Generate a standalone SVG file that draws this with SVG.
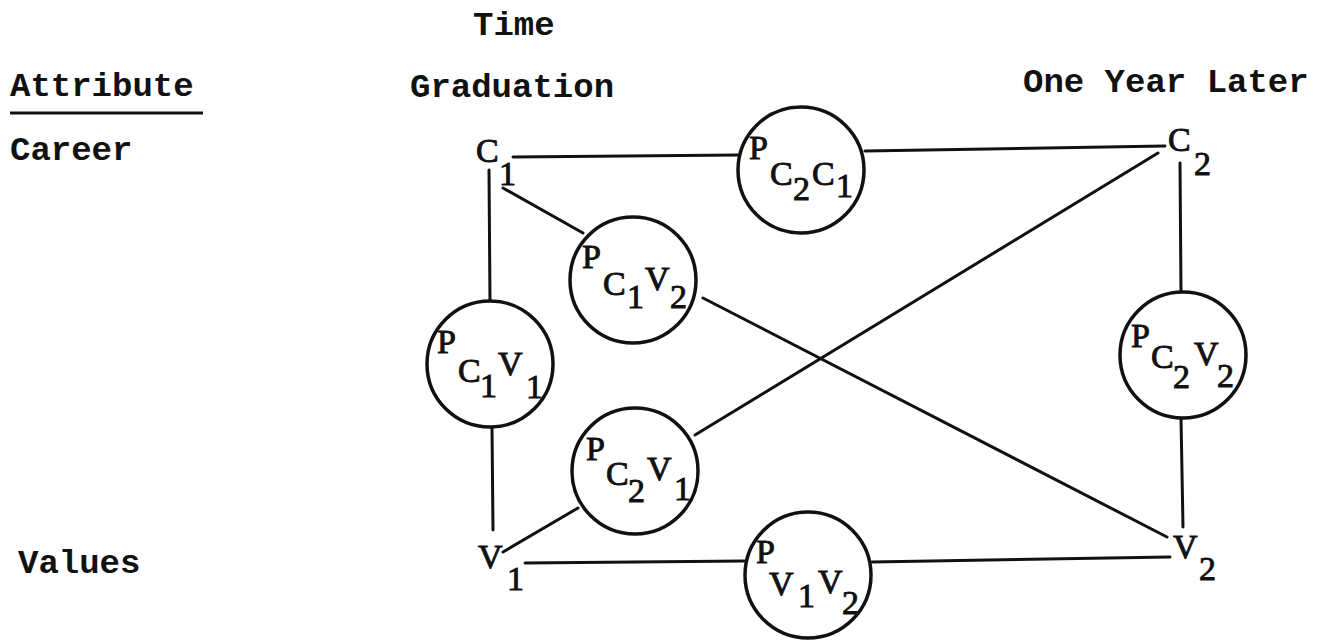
<svg xmlns="http://www.w3.org/2000/svg" width="1327" height="643" viewBox="0 0 1327 643">
<style>
.hd{font-family:"Liberation Mono","DejaVu Sans Mono",monospace;font-size:34px;fill:#111;font-weight:bold}
.lb{font-family:"Liberation Serif","DejaVu Serif",serif;font-size:34px;fill:#111;stroke:#111;stroke-width:0.9}
.c{fill:#fff;stroke:#111;stroke-width:3.5}
.ln{stroke:#111;stroke-width:3;fill:none;stroke-linecap:round}
</style>
<rect width="1327" height="643" fill="#fff"/>
<g id="headers">
<text class="hd" x="473" y="35">Time</text>
<text class="hd" x="10" y="96">Attribute</text>
<line x1="10" y1="113" x2="203" y2="113" stroke="#111" stroke-width="3"/>
<text class="hd" x="410" y="97">Graduation</text>
<text class="hd" x="1023" y="92">One Year Later</text>
<text class="hd" x="10" y="160">Career</text>
<text class="hd" x="18" y="573">Values</text>
</g>
<g id="connectors">
<line class="ln" x1="513" y1="157" x2="738" y2="155"/>
<line class="ln" x1="865" y1="151" x2="1165" y2="146"/>
<line class="ln" x1="489" y1="170" x2="490" y2="302"/>
<line class="ln" x1="492" y1="427" x2="493" y2="530"/>
<line class="ln" x1="503" y1="188" x2="583" y2="233"/>
<line class="ln" x1="703" y1="298" x2="1167" y2="537"/>
<line class="ln" x1="1158" y1="153" x2="695" y2="435"/>
<line class="ln" x1="503" y1="552" x2="578" y2="508"/>
<line class="ln" x1="525" y1="563" x2="744" y2="561"/>
<line class="ln" x1="872" y1="562" x2="1170" y2="557"/>
<line class="ln" x1="1180" y1="163" x2="1181" y2="293"/>
<line class="ln" x1="1181" y1="418" x2="1183" y2="527"/>
</g>
<g id="C1"><text class="lb"><tspan x="476" y="162">C</tspan><tspan x="499" y="185">1</tspan></text></g>
<g id="C2"><text class="lb"><tspan x="1168" y="151">C</tspan><tspan x="1194" y="175">2</tspan></text></g>
<g id="V1"><text class="lb"><tspan x="478" y="568">V</tspan><tspan x="507" y="590">1</tspan></text></g>
<g id="V2"><text class="lb"><tspan x="1173" y="558">V</tspan><tspan x="1199" y="580">2</tspan></text></g>
<g id="P_C2C1"><circle class="c" cx="801" cy="170" r="63"/>
<text class="lb"><tspan x="749" y="159">P</tspan><tspan x="770" y="185">C</tspan><tspan x="793" y="200">2</tspan><tspan x="812" y="185">C</tspan><tspan x="836" y="197">1</tspan></text></g>
<g id="P_C1V2"><circle class="c" cx="633" cy="280" r="63"/>
<text class="lb"><tspan x="582" y="268">P</tspan><tspan x="603" y="295">C</tspan><tspan x="627" y="308">1</tspan><tspan x="645" y="290">V</tspan><tspan x="670" y="308">2</tspan></text></g>
<g id="P_C1V1"><circle class="c" cx="490" cy="364" r="63"/>
<text class="lb"><tspan x="437" y="353">P</tspan><tspan x="458" y="382">C</tspan><tspan x="480" y="397">1</tspan><tspan x="498" y="375">V</tspan><tspan x="526" y="398">1</tspan></text></g>
<g id="P_C2V1"><circle class="c" cx="635" cy="471" r="63"/>
<text class="lb"><tspan x="586" y="460">P</tspan><tspan x="606" y="485">C</tspan><tspan x="628" y="502">2</tspan><tspan x="647" y="480">V</tspan><tspan x="674" y="500">1</tspan></text></g>
<g id="P_C2V2"><circle class="c" cx="1183" cy="355" r="63"/>
<text class="lb"><tspan x="1131" y="347">P</tspan><tspan x="1151" y="368">C</tspan><tspan x="1173" y="388">2</tspan><tspan x="1194" y="365">V</tspan><tspan x="1217" y="387">2</tspan></text></g>
<g id="P_V1V2"><circle class="c" cx="808" cy="575" r="63"/>
<text class="lb"><tspan x="756" y="563">P</tspan><tspan x="769" y="595">V</tspan><tspan x="798" y="607">1</tspan><tspan x="818" y="593">V</tspan><tspan x="842" y="614">2</tspan></text></g>
</svg>
